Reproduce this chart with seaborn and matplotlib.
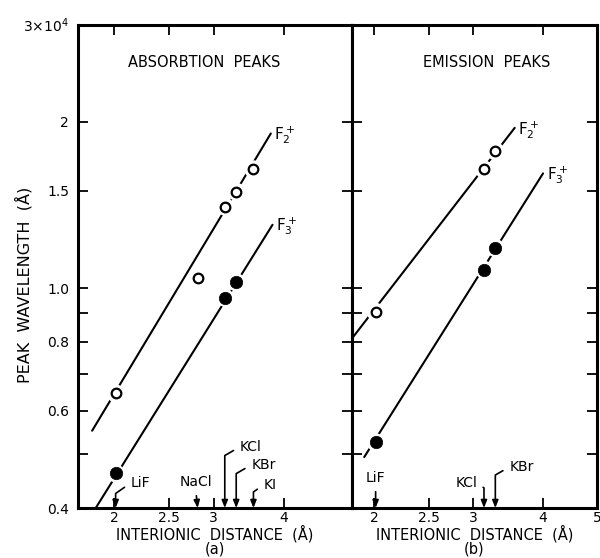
import matplotlib
matplotlib.use("Agg")
import matplotlib.pyplot as plt
import seaborn as sns
from matplotlib.ticker import FixedLocator, FixedFormatter, NullLocator

# ---------------- data (peak wavelength in units of 10^4 Å) ----------------
crystals_a = ["LiF", "NaCl", "KCl", "KBr", "KI"]
distance_a = [2.01, 2.81, 3.14, 3.29, 3.53]
crystals_b = ["LiF", "KCl", "KBr"]
distance_b = [2.01, 3.14, 3.29]

abs_f2_x = [2.01, 2.81, 3.14, 3.29, 3.53]
abs_f2_y = [0.645, 1.045, 1.405, 1.495, 1.64]
abs_f3_x = [2.01, 3.14, 3.29]
abs_f3_y = [0.462, 0.961, 1.025]
em_f2_x = [2.01, 3.14, 3.29]
em_f2_y = [0.906, 1.64, 1.77]
em_f3_x = [2.01, 3.14, 3.29]
em_f3_y = [0.526, 1.08, 1.182]

# hand-drawn straight fit lines (end points)
abs_f2_fit_x = [1.826, 3.79]
abs_f2_fit_y = [0.552, 1.905]
abs_f3_fit_x = [1.853, 3.816]
abs_f3_fit_y = [0.40, 1.302]
em_f2_fit_x = [1.829, 3.563]
em_f2_fit_y = [0.814, 1.95]
em_f3_fit_x = [1.918, 4.004]
em_f3_fit_y = [0.4946, 1.613]

y_ticks = [0.4, 0.5, 0.6, 0.7, 0.8, 0.9, 1.0, 1.5, 2, 3]
y_labels = ["0.4", "", "0.6", "", "0.8", "", "1.0", "1.5", "2", "3×10$^4$"]
x_ticks_a = [2, 2.5, 3, 4]
x_labels_a = ["2", "2.5", "3", "4"]
x_ticks_b = [2, 2.5, 3, 4, 5]
x_labels_b = ["2", "2.5", "3", "4", "5"]

# ---------------- figure ----------------
sns.set_style("white")
plt.rcParams["font.family"] = ["DejaVu Sans"]
plt.rcParams["text.color"] = "black"
plt.rcParams["axes.labelcolor"] = "black"
plt.rcParams["xtick.color"] = "black"
plt.rcParams["ytick.color"] = "black"

fig = plt.figure(figsize=(6.0, 5.58), dpi=100)
L, B, T = 77.5 / 600, 1 - 508 / 558, 1 - 24.5 / 558
wa, wb = 274 / 600, 245.5 / 600
axa = fig.add_axes([L, B, wa, T - B])
axb = fig.add_axes([L + wa, B, wb, T - B])

for ax in (axa, axb):
    ax.set_xscale("log")
    ax.set_yscale("log")
    ax.set_ylim(0.4, 3)
axa.set_xlim(1.72, 5.27)
axb.set_xlim(1.82, 5.0)


def draw(ax, fx2, fy2, fx3, fy3, px2, py2, px3, py3):
    for fx, fy in ((fx2, fy2), (fx3, fy3)):
        sns.lineplot(x=fx, y=fy, ax=ax, color="black", lw=1.5, zorder=2,
                     estimator=None, sort=False)
    for px, py in ((px2, py2), (px3, py3)):
        sns.scatterplot(x=px, y=py, ax=ax, s=170, color="white",
                        edgecolor="none", zorder=3)
    sns.scatterplot(x=px2, y=py2, ax=ax, s=48, color="white",
                    edgecolor="black", linewidth=1.6, zorder=4)
    sns.scatterplot(x=px3, y=py3, ax=ax, s=80, color="black",
                    edgecolor="black", linewidth=0.5, zorder=4)


draw(axa, abs_f2_fit_x, abs_f2_fit_y, abs_f3_fit_x, abs_f3_fit_y,
     abs_f2_x, abs_f2_y, abs_f3_x, abs_f3_y)
draw(axb, em_f2_fit_x, em_f2_fit_y, em_f3_fit_x, em_f3_fit_y,
     em_f2_x, em_f2_y, em_f3_x, em_f3_y)

# F labels at line ends
for ax, fx2, fy2, fx3, fy3 in ((axa, abs_f2_fit_x, abs_f2_fit_y, abs_f3_fit_x, abs_f3_fit_y),
                               (axb, em_f2_fit_x, em_f2_fit_y, em_f3_fit_x, em_f3_fit_y)):
    ax.annotate("F$_2^+$", xy=(fx2[-1], fy2[-1]), xytext=(2.5, -1.5),
                textcoords="offset points", ha="left", va="center", fontsize=11)
    ax.annotate("F$_3^+$", xy=(fx3[-1], fy3[-1]), xytext=(2.5, -1.0),
                textcoords="offset points", ha="left", va="center", fontsize=11)

# ticks
for ax, xt, xl in ((axa, x_ticks_a, x_labels_a), (axb, x_ticks_b, x_labels_b)):
    ax.xaxis.set_major_locator(FixedLocator(xt))
    ax.xaxis.set_major_formatter(FixedFormatter(xl))
    ax.xaxis.set_minor_locator(NullLocator())
    ax.yaxis.set_major_locator(FixedLocator(y_ticks))
    ax.yaxis.set_major_formatter(FixedFormatter(y_labels))
    ax.yaxis.set_minor_locator(NullLocator())
    ax.tick_params(which="both", direction="in", top=True, right=True,
                   bottom=True, left=True, length=7, width=1.3,
                   labelsize=10, pad=2, color="black", labelcolor="black")
    ax.tick_params(axis="y", pad=6)
    for sp in ax.spines.values():
        sp.set_linewidth(2.2)
        sp.set_color("black")
axb.tick_params(labelleft=False)

# titles
axa.text(0.462, 0.922, "ABSORBTION  PEAKS", transform=axa.transAxes,
         ha="center", va="center", fontsize=10.5)
axb.text(0.552, 0.922, "EMISSION  PEAKS", transform=axb.transAxes,
         ha="center", va="center", fontsize=10.5)

# axis labels
axa.set_ylabel("PEAK  WAVELENGTH  (Å)", fontsize=11.5, labelpad=0)
axa.yaxis.set_label_coords(-0.165, 0.461)
axb.set_ylabel("")
for ax, tag in ((axa, "(a)"), (axb, "(b)")):
    ax.set_xlabel("INTERIONIC  DISTANCE  (Å)\n" + tag, fontsize=10.5,
                  labelpad=0, linespacing=0.95)


# crystal arrows
def mark(ax, name, x, dx, dy, ha, angle):
    if angle is None:
        cs = "arc3,rad=0"
        relpos = (0.5, 0.0)
    else:
        cs = f"angle,angleA={angle},angleB=90,rad=0"
        relpos = (0.0, 0.5) if ha == "left" else (1.0, 0.5)
    ax.annotate(name, xy=(x, 0.4), xycoords="data", xytext=(dx, dy),
                textcoords="offset points", ha=ha, va="center", fontsize=10,
                annotation_clip=False,
                arrowprops=dict(arrowstyle="-|>,head_length=0.45,head_width=0.18",
                                connectionstyle=cs, color="black", lw=1.2,
                                shrinkA=2.5, shrinkB=0, relpos=relpos))


layout_a = {"LiF": (10.8, 18, "left", 35), "NaCl": (-1.4, 18.7, "center", None),
            "KCl": (10.8, 44, "left", 30), "KBr": (10.8, 31, "left", 30),
            "KI": (7.2, 16.6, "left", 35)}
layout_b = {"LiF": (0, 21.6, "center", None), "KCl": (-5, 18, "right", -35),
            "KBr": (10, 29.5, "left", 30)}
for name, x in zip(crystals_a, distance_a):
    mark(axa, name, x, *layout_a[name])
for name, x in zip(crystals_b, distance_b):
    mark(axb, name, x, *layout_b[name])

fig.savefig("out.png", dpi=100, facecolor="white")
